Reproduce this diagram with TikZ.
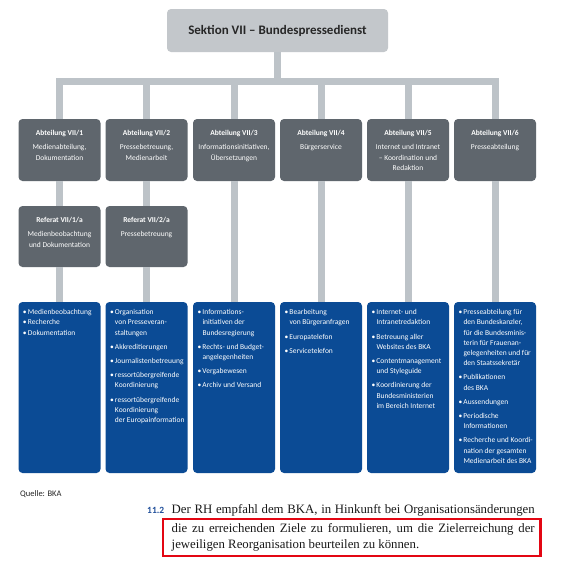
\documentclass[tikz,border=0pt]{standalone}
\usepackage{fontspec}
\setmainfont{Carlito}
\newfontfamily\bodyserif{Liberation Serif}
\usetikzlibrary{calc}
\definecolor{lgray}{HTML}{BDC3C8}
\definecolor{topgray}{HTML}{C3C7CB}
\definecolor{dgray}{HTML}{5F666D}
\definecolor{dblue}{HTML}{0B4B95}
\definecolor{numblue}{HTML}{1F4E9A}
\definecolor{redbox}{HTML}{E30613}
\newcommand\bul{\makebox[5pt][l]{\textbullet}}
\newcommand\myind{\hspace*{5pt}}
\begin{document}
\begin{tikzpicture}[x=1pt,y=-1pt,
  box/.style={rounded corners=4pt, minimum width=82pt, inner sep=0pt, draw=none},
  topbox/.style={box, fill=topgray, minimum width=221pt, minimum height=43pt,
     font=\fontsize{13}{15}\selectfont\bfseries, text=black!85},
  abt/.style={box, fill=dgray, minimum height=62pt},
  refb/.style={box, fill=dgray, minimum height=61pt},
  blu/.style={box, fill=dblue, minimum height=171pt},
  gtext/.style={anchor=north, inner sep=0pt, align=center, text=white,
     font=\fontsize{7.5}{10.2}\selectfont},
  btext/.style={anchor=north west, inner sep=0pt, align=left, text=white,
     font=\fontsize{7.5}{10.2}\selectfont},
  body/.style={anchor=base west, inner sep=0pt, font=\fontsize{12.8}{17}\bodyserif, text=black!90},
  conn/.style={draw=lgray, line width=7pt}]
\fill[white] (0,0) rectangle (566,571);
\useasboundingbox (0,0) rectangle (566,571);

% top
\node[topbox] (top) at (277.5,30.5) {Sektion VII – Bundespressedienst};

% boxes
\foreach \i/\x in {1/59.5,2/146.5,3/234,4/321,5/408,6/495}{
  \node[abt] (a\i) at (\x,150) {};
  \node[blu] (b\i) at (\x,387.5) {};
}
\node[refb] (r1) at (59.5,236.5) {};
\node[refb] (r2) at (146.5,236.5) {};

% connectors
\coordinate (hub) at (277.5,81.5);
\draw[conn] (top.south) -- (hub);
\draw[conn, line join=miter] (a1.north) -- (a1.north |- hub) -- (a6.north |- hub) -- (a6.north);
\foreach \i in {2,...,5} \draw[conn] (a\i.north) -- (a\i.north |- hub);
\draw[conn] (a1.south) -- (r1.north);
\draw[conn] (r1.south) -- (b1.north);
\draw[conn] (a2.south) -- (r2.north);
\draw[conn] (r2.south) -- (b2.north);
\foreach \i in {3,...,6} \draw[conn] (a\i.south) -- (b\i.north);

% gray box texts
\node[gtext] (a1t) at ($(a1.north)+(0,11.5)$) {\textbf{Abteilung VII/1}\\[4pt]Medienabteilung,\\Dokumentation};
\node[gtext] (a2t) at ($(a2.north)+(0,11.5)$) {\textbf{Abteilung VII/2}\\[4pt]Pressebetreuung,\\Medienarbeit};
\node[gtext] (a3t) at ($(a3.north)+(0,11.5)$) {\textbf{Abteilung VII/3}\\[4pt]Informationsinitiativen,\\Übersetzungen};
\node[gtext] (a4t) at ($(a4.north)+(0,11.5)$) {\textbf{Abteilung VII/4}\\[4pt]Bürgerservice};
\node[gtext] (a5t) at ($(a5.north)+(0,11.5)$) {\textbf{Abteilung VII/5}\\[4pt]Internet und Intranet\\– Koordination und\\Redaktion};
\node[gtext] (a6t) at ($(a6.north)+(0,11.5)$) {\textbf{Abteilung VII/6}\\[4pt]Presseabteilung};
\node[gtext] (r1t) at ($(r1.north)+(0,11.5)$) {\textbf{Referat VII/1/a}\\[4pt]Medienbeobachtung\\und Dokumentation};
\node[gtext] (r2t) at ($(r2.north)+(0,11.5)$) {\textbf{Referat VII/2/a}\\[4pt]Pressebetreuung};

% blue box texts
\node[btext] (b1t) at ($(b1.north west)+(4.5,7.5)$) {\bul Medienbeobachtung\\\bul Recherche\\\bul Dokumentation};
\node[btext] (b2t) at ($(b2.north west)+(4.5,7.5)$) {\bul Organisation\\\myind von Presseveran-\\\myind staltungen\\[4pt]
\bul Akkreditierungen\\[4pt]
\bul Journalistenbetreuung\\[4pt]
\bul ressortübergreifende\\\myind Koordinierung\\[4pt]
\bul ressortübergreifende\\\myind Koordinierung\\\myind der Europainformation};
\node[btext] (b3t) at ($(b3.north west)+(4.5,7.5)$) {\bul Informations-\\\myind initiativen der\\\myind Bundesregierung\\[4pt]
\bul Rechts- und Budget-\\\myind angelegenheiten\\[4pt]
\bul Vergabewesen\\[4pt]
\bul Archiv und Versand};
\node[btext] (b4t) at ($(b4.north west)+(4.5,7.5)$) {\bul Bearbeitung\\\myind von Bürgeranfragen\\[4pt]
\bul Europatelefon\\[4pt]
\bul Servicetelefon};
\node[btext] (b5t) at ($(b5.north west)+(4.5,7.5)$) {\bul Internet- und\\\myind Intranetredaktion\\[4pt]
\bul Betreuung aller\\\myind Websites des BKA\\[4pt]
\bul Contentmanagement\\\myind und Styleguide\\[4pt]
\bul Koordinierung der\\\myind Bundesministerien\\\myind im Bereich Internet};
\node[btext] (b6t) at ($(b6.north west)+(4.5,7.5)$) {\bul Presseabteilung für\\\myind den Bundeskanzler,\\\myind für die Bundesminis-\\\myind terin für Frauenan-\\\myind gelegenheiten und für\\\myind den Staatssekretär\\[4pt]
\bul Publikationen\\\myind des BKA\\[4pt]
\bul Aussendungen\\[4pt]
\bul Periodische\\\myind Informationen\\[4pt]
\bul Recherche und Koordi-\\\myind nation der gesamten\\\myind Medienarbeit des BKA};

% bottom
\node[anchor=west, inner sep=0pt, font=\fontsize{8.5}{10}\selectfont, text=black!85] (src) at (20,494) {Quelle: BKA};
\node[anchor=base west, inner sep=0pt, font=\fontsize{9.5}{11}\selectfont\bfseries, text=numblue] (num) at (147,513) {11.2};
\node[body] (l1) at (171.5,513) {\makebox[363pt][s]{Der RH empfahl dem BKA, in Hinkunft bei Organisationsänderungen}};
\node[body] (l2) at (171.5,532) {\makebox[363pt][s]{die zu erreichenden Ziele zu formulieren, um die Zielerreichung der}};
\node[body] (l3) at (171.5,548.5) {jeweiligen Reorganisation beurteilen zu können.};
\draw[redbox, line width=2.7pt] (163,519) rectangle (540.5,556);
\end{tikzpicture}
\end{document}
